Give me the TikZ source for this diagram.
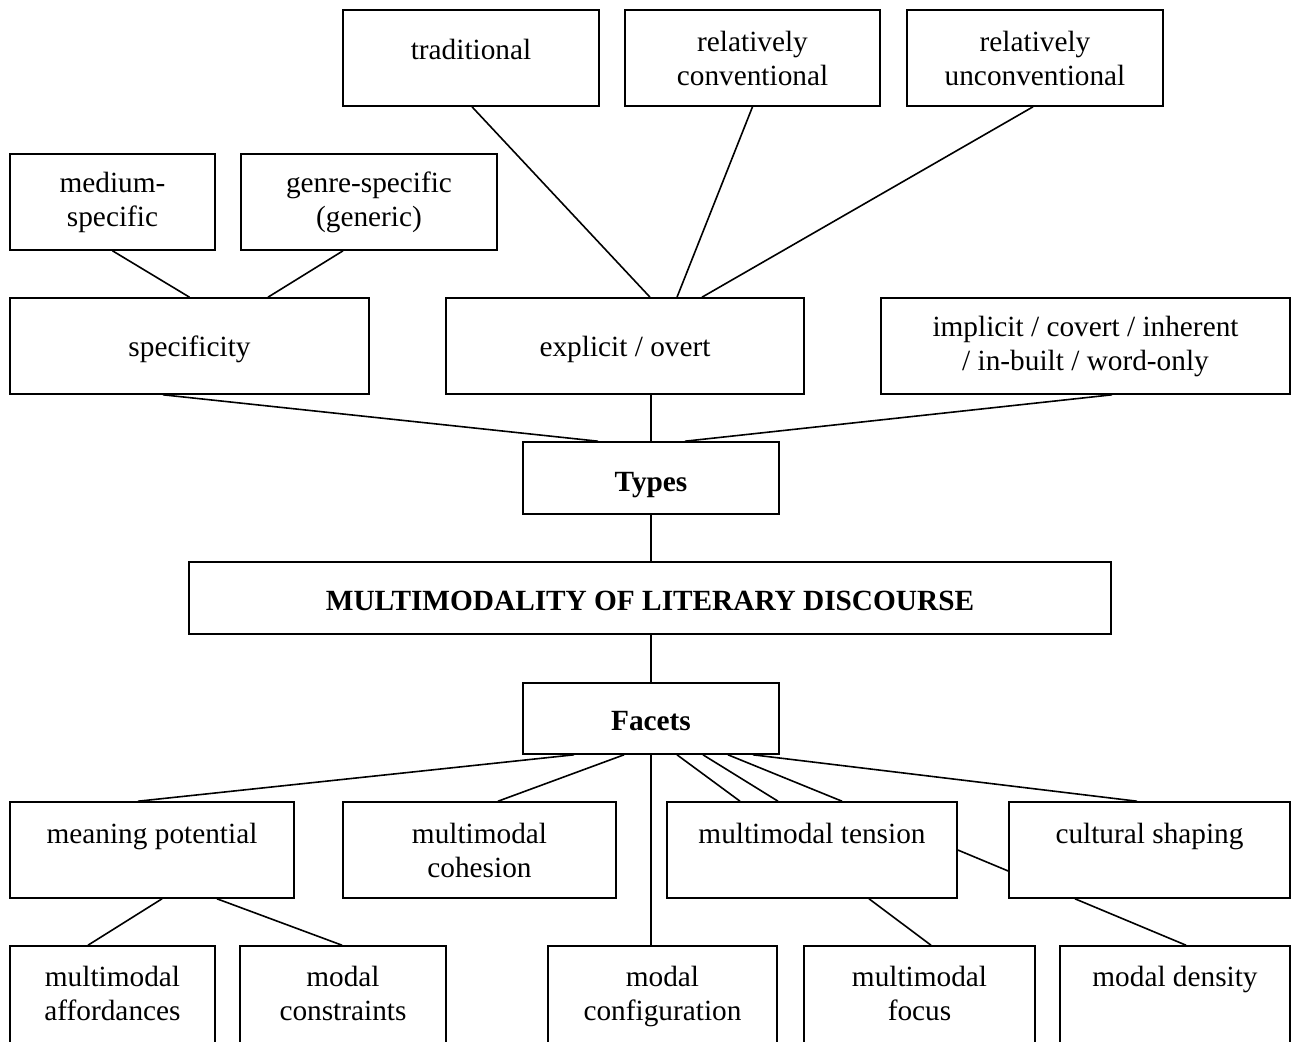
\documentclass[tikz,border=0pt]{standalone}
\usepackage{fontspec}
\setmainfont{Liberation Serif}
\begin{document}
\begin{tikzpicture}[x=1pt,y=-1pt,
  box/.style={draw, line width=1.6pt, inner sep=0pt, align=center, font=\fontsize{29.3}{34}\selectfont},
  boldbox/.style={box, font=\fontsize{29.3}{34}\selectfont\bfseries},
  conn/.style={line width=1.6pt}]
\useasboundingbox (0,0) rectangle (1292,1041);
\clip (0,0) rectangle (1292,1041);
% top row
\node[box, minimum width=256pt, minimum height=96pt] (trad) at (471,58) {traditional\\[-16pt]\mbox{}};
\node[box, minimum width=255pt, minimum height=96pt] (relconv) at (752.5,58) {relatively\\conventional};
\node[box, minimum width=256pt, minimum height=96pt] (relunc) at (1035,58) {relatively\\unconventional};
% second row
\node[box, minimum width=205pt, minimum height=96pt] (medium) at (112.5,202) {medium-\\specific};
\node[box, minimum width=256pt, minimum height=96pt] (genre) at (369,202) {genre-specific\\(generic)};
% third row
\node[box, minimum width=359pt, minimum height=96pt, text depth=0pt] (spec) at (189.5,346) {specificity};
\node[box, minimum width=358pt, minimum height=96pt, text depth=0pt] (expl) at (625,346) {explicit / overt};
\node[box, minimum width=409pt, minimum height=96pt] (impl) at (1085.5,346) {implicit / covert / inherent\\/ in-built / word-only};
% centre column
\node[boldbox, minimum width=256pt, minimum height=72pt] (types) at (651,478) {\smash{\raisebox{-13.7pt}{Types}}};
\node[boldbox, minimum width=922pt, minimum height=72pt] (multi) at (650,598) {\smash{\raisebox{-12.5pt}{MULTIMODALITY OF LITERARY DISCOURSE}}};
\node[boldbox, minimum width=256pt, minimum height=71pt] (facets) at (651,718.5) {\smash{\raisebox{-11.8pt}{Facets}}};
% facets row
\node[box, minimum width=284pt, minimum height=96pt] (meaning) at (152,850) {meaning potential\\\mbox{}};
\node[box, minimum width=273pt, minimum height=96pt] (cohesion) at (479.5,850) {multimodal\\cohesion};
\node[box, minimum width=290pt, minimum height=96pt] (tension) at (812,850) {multimodal tension\\\mbox{}};
\node[box, minimum width=281pt, minimum height=96pt] (cultural) at (1149.5,850) {cultural shaping\\\mbox{}};
% bottom row (cut by the page edge)
\node[box, minimum width=205pt, minimum height=100pt] (afford) at (112.5,996) {multimodal\\affordances\\[-28pt]\mbox{}};
\node[box, minimum width=206pt, minimum height=100pt] (constr) at (343,996) {modal\\constraints\\[-28pt]\mbox{}};
\node[box, minimum width=229pt, minimum height=100pt] (config) at (662.5,996) {modal\\configuration};
\node[box, minimum width=231pt, minimum height=100pt] (focus) at (919.5,996) {multimodal\\focus\\[-28pt]\mbox{}};
\node[box, minimum width=230pt, minimum height=100pt] (density) at (1175,996) {modal density\\[6pt]\mbox{}};
% connectors
\draw[conn] (medium.south) -- (spec.north);
\draw[conn] ([xshift=-26pt]genre.south) -- ([xshift=78.5pt]spec.north);
\draw[conn] ([xshift=1pt]trad.south) -- ([xshift=25pt]expl.north);
\draw[conn] (relconv.south) -- ([xshift=52pt]expl.north);
\draw[conn] ([xshift=-2pt]relunc.south) -- ([xshift=77pt]expl.north);
\draw[conn] ([xshift=-26.5pt]spec.south) -- ([xshift=-53pt]types.north);
\draw[conn] ([xshift=26pt]expl.south) -- (types.north);
\draw[conn] ([xshift=26.5pt]impl.south) -- ([xshift=34pt]types.north);
\draw[conn] (types.south) -- (types.south |- multi.north);
\draw[conn] (facets.north |- multi.south) -- (facets.north);
\draw[conn] ([xshift=-77pt]facets.south) -- ([xshift=-14pt]meaning.north);
\draw[conn] ([xshift=-27pt]facets.south) -- ([xshift=18.5pt]cohesion.north);
\draw[conn] (facets.south) -- (facets.south |- config.north);
\draw[conn] ([xshift=26pt]facets.south) -- ([xshift=-72pt]tension.north);
\draw[conn] ([xshift=52pt]facets.south) -- ([xshift=-34pt]tension.north);
\draw[conn] ([xshift=77pt]facets.south) -- ([xshift=30pt]tension.north);
\draw[conn] ([xshift=102pt]facets.south) -- ([xshift=-12.5pt]cultural.north);
\draw[conn] (tension.east) -- ([yshift=-21pt]cultural.west);
\draw[conn] ([xshift=10pt]meaning.south) -- ([xshift=-24.5pt]afford.north);
\draw[conn] ([xshift=65pt]meaning.south) -- ([xshift=-1pt]constr.north);
\draw[conn] ([xshift=57pt]tension.south) -- ([xshift=11.5pt]focus.north);
\draw[conn] ([xshift=-74.5pt]cultural.south) -- ([xshift=11pt]density.north);
\end{tikzpicture}
\end{document}
